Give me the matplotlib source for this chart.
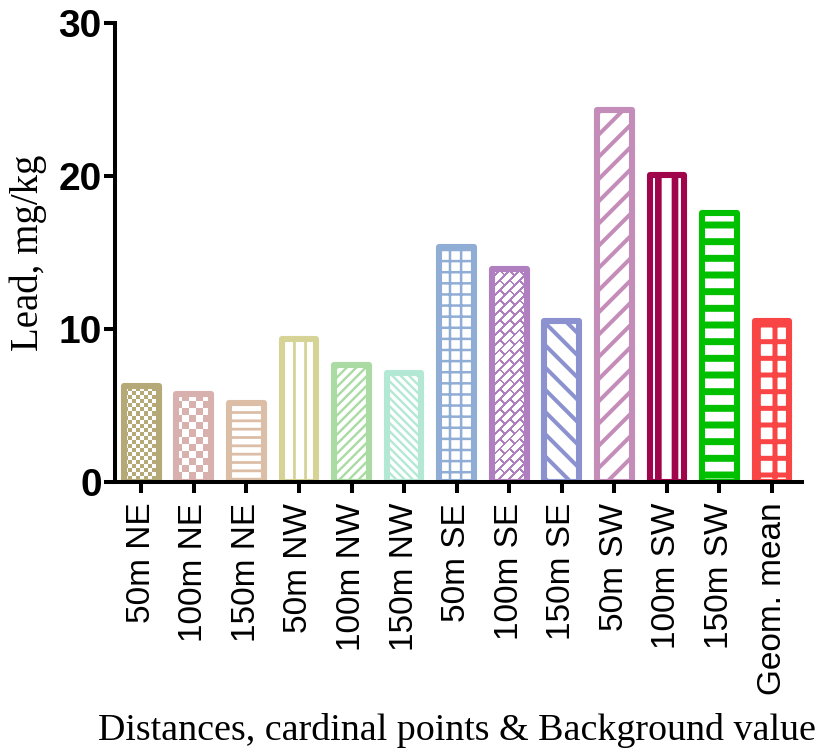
import numpy as np
import matplotlib
matplotlib.use('Agg')
import matplotlib.pyplot as plt
from matplotlib.colors import to_rgb

labels = ['50m NE', '100m NE', '150m NE', '50m NW', '100m NW', '150m NW',
          '50m SE', '100m SE', '150m SE', '50m SW', '100m SW', '150m SW', 'Geom. mean']
lead = [6.29, 5.75, 5.16, 9.37, 7.63, 7.09, 15.35, 13.88, 10.52, 24.27, 20.04, 17.57, 10.52]
colors = ['#b4a977', '#d8b0ae', '#dcbea6', '#d6d396', '#a9dba3', '#b3e8d5',
          '#8fadd5', '#b07fc0', '#8b92cf', '#c48cb8', '#a0054b', '#00c000', '#f94545']
hatches = ['', '', '----', '|||', '/' * 7, '\\' * 8, '+++', '', '\\' * 3, '/' * 3,
           '||', '--', '++']
hatch_lw = [0, 0, 1.0, 1.0, 0.85, 0.85, 0.9, 0, 1.45, 1.45, 2.4, 2.5, 1.8]
# bars whose pattern has no matplotlib hatch: drawn as a clipped texture
textures = {0: ('checker', 4), 1: ('checker', 7), 7: ('brick', 7)}

DPI = 200
fig = plt.figure(figsize=(823 / DPI, 752 / DPI), dpi=DPI)
ax = fig.add_axes([115 / 823, 1 - 482 / 752, (802 - 115) / 823, (482 - 22.7) / 752])

x = np.arange(len(labels))
ax.set_xlim(-0.5, 12.57)
ax.set_ylim(0, 30)

bars = ax.bar(x, lead, width=0.66, facecolor='none', edgecolor=colors,
              linewidth=2.2, zorder=2)
for b, h, lw in zip(bars, hatches, hatch_lw):
    b.set_joinstyle('round')
    if h:
        b.set_hatch(h)
        if hasattr(b, 'set_hatch_linewidth'):
            b.set_hatch_linewidth(lw)


def add_texture(bar, kind, size, color):
    x0, y0 = bar.get_x(), bar.get_y()
    (px0, py0), (px1, py1) = ax.transData.transform(
        [(x0, y0), (x0 + bar.get_width(), y0 + bar.get_height())])
    ix0, iy0 = int(np.floor(px0)), int(np.floor(py0))
    ix1, iy1 = int(np.ceil(px1)), int(np.ceil(py1))
    (dx0, dy0), (dx1, dy1) = ax.transData.inverted().transform([(ix0, iy0), (ix1, iy1)])
    gx, gy = np.meshgrid(np.arange(ix0, ix1) + 0.5, np.arange(iy0, iy1) + 0.5)
    if kind == 'checker':
        mask = ((gx // size + gy // size) % 2) == 0
    else:
        u = (gx + gy) / np.sqrt(2)
        v = (gy - gx) / np.sqrt(2)
        L, w = 2 * size, 2.0
        r = np.floor(v / size)
        mask = (np.mod(v, size) < w) | (np.mod(u + r * L / 2, L) < w)
    rgba = np.ones(mask.shape + (4,))
    rgba[mask, :3] = to_rgb(color)
    im = ax.imshow(rgba, extent=(dx0, dx1, dy0, dy1), origin='lower',
                   interpolation='nearest', aspect='auto', zorder=1.5)
    im.set_clip_path(bar)


for i, (kind, size) in textures.items():
    add_texture(bars[i], kind, size, colors[i])

ax.set_xlim(-0.5, 12.57)
ax.set_ylim(0, 30)

for s in ['top', 'right']:
    ax.spines[s].set_visible(False)
for s in ['left', 'bottom']:
    ax.spines[s].set_linewidth(1.45)

ax.set_xticks(x)
ax.set_xticklabels(labels, rotation=90, fontsize=12, family='Liberation Sans')
ax.set_yticks([0, 10, 20, 30])
ax.set_yticklabels(['0', '10', '20', '30'], fontsize=14, fontweight='bold',
                   family='Liberation Sans')
ax.tick_params(axis='both', length=4, width=1.45, direction='out')
ax.tick_params(axis='x', pad=3.5)
ax.tick_params(axis='y', pad=0.8)

ax.set_ylabel('Lead, mg/kg', fontsize=14, family='Liberation Serif')
ax.yaxis.label.set_va('center')
ax.yaxis.set_label_coords((28 - 115) / 687, 0.5)
ax.set_xlabel('Distances, cardinal points & Background value', fontsize=13.7,
              family='Liberation Serif')
ax.xaxis.label.set_va('center')
ax.xaxis.set_label_coords((457 - 115) / 687, (482 - 730) / 459.3)

fig.savefig('out.png', dpi=DPI)
